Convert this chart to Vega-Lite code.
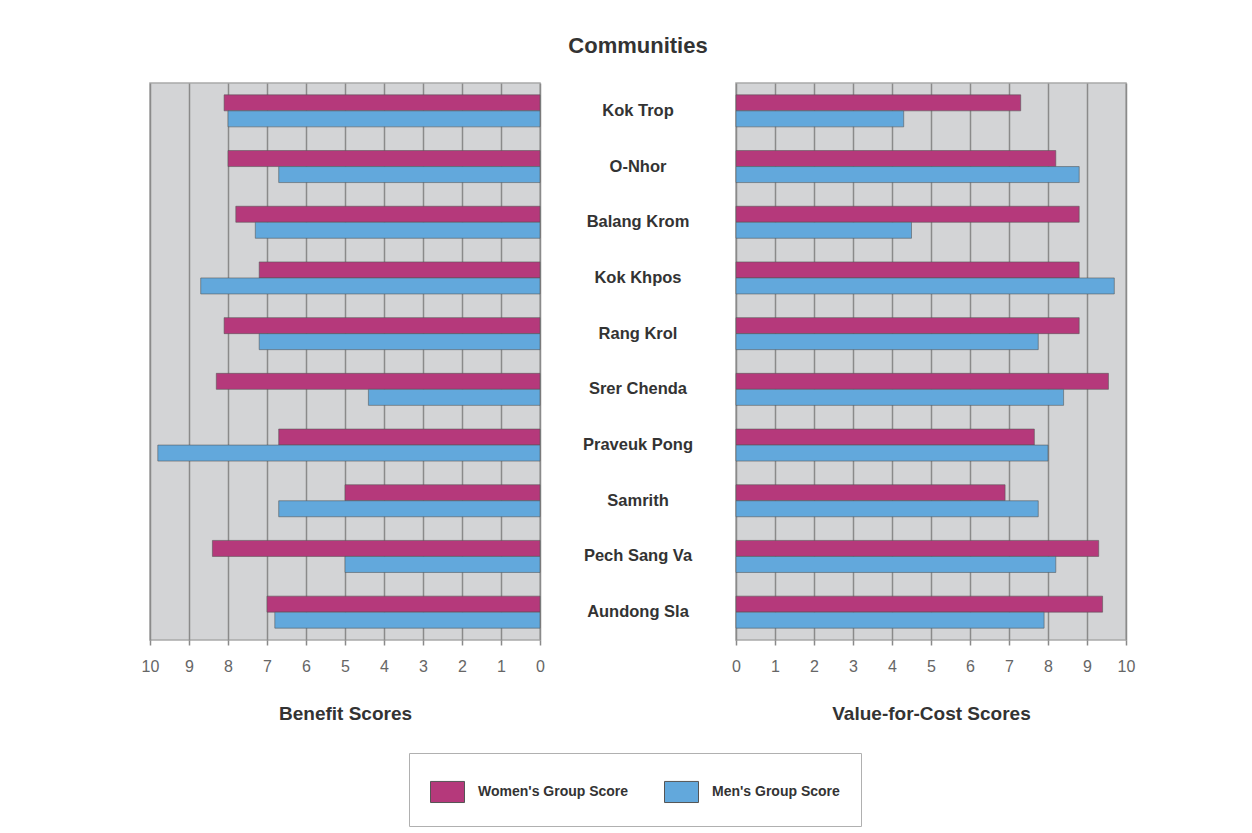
{
  "$schema": "https://vega.github.io/schema/vega-lite/v6.json",
  "padding": {"left": 140, "top": 35, "right": 10, "bottom": 10},
  "background": "white",
  "bounds": "flush",
  "spacing": 0,
  "datasets": {
    "scores": [
      {"community": "Kok Trop", "group": "Women's Group Score", "benefit": 8.1, "value": 7.3},
      {"community": "Kok Trop", "group": "Men's Group Score", "benefit": 8.0, "value": 4.3},
      {"community": "O-Nhor", "group": "Women's Group Score", "benefit": 8.0, "value": 8.2},
      {"community": "O-Nhor", "group": "Men's Group Score", "benefit": 6.7, "value": 8.8},
      {"community": "Balang Krom", "group": "Women's Group Score", "benefit": 7.8, "value": 8.8},
      {"community": "Balang Krom", "group": "Men's Group Score", "benefit": 7.3, "value": 4.5},
      {"community": "Kok Khpos", "group": "Women's Group Score", "benefit": 7.2, "value": 8.8},
      {"community": "Kok Khpos", "group": "Men's Group Score", "benefit": 8.7, "value": 9.7},
      {"community": "Rang Krol", "group": "Women's Group Score", "benefit": 8.1, "value": 8.8},
      {"community": "Rang Krol", "group": "Men's Group Score", "benefit": 7.2, "value": 7.75},
      {"community": "Srer Chenda", "group": "Women's Group Score", "benefit": 8.3, "value": 9.55},
      {"community": "Srer Chenda", "group": "Men's Group Score", "benefit": 4.4, "value": 8.4},
      {"community": "Praveuk Pong", "group": "Women's Group Score", "benefit": 6.7, "value": 7.65},
      {"community": "Praveuk Pong", "group": "Men's Group Score", "benefit": 9.8, "value": 8.0},
      {"community": "Samrith", "group": "Women's Group Score", "benefit": 5.0, "value": 6.9},
      {"community": "Samrith", "group": "Men's Group Score", "benefit": 6.7, "value": 7.75},
      {"community": "Pech Sang Va", "group": "Women's Group Score", "benefit": 8.4, "value": 9.3},
      {"community": "Pech Sang Va", "group": "Men's Group Score", "benefit": 5.0, "value": 8.2},
      {"community": "Aundong Sla", "group": "Women's Group Score", "benefit": 7.0, "value": 9.4},
      {"community": "Aundong Sla", "group": "Men's Group Score", "benefit": 6.8, "value": 7.9}
    ]
  },
  "resolve": {"scale": {"x": "independent", "y": "independent", "yOffset": "independent", "color": "shared"}},
  "hconcat": [
    {
      "width": 390,
      "height": 557,
      "data": {"name": "scores"},
      "view": {"fill": "#d3d4d6", "stroke": "#a9a9a9", "strokeWidth": 1.5},
      "mark": {"type": "bar", "stroke": "#555555", "strokeWidth": 0.8, "strokeOpacity": 0.7},
      "encoding": {
        "y": {"field": "community", "type": "nominal", "axis": null,
          "sort": ["Kok Trop", "O-Nhor", "Balang Krom", "Kok Khpos", "Rang Krol", "Srer Chenda", "Praveuk Pong", "Samrith", "Pech Sang Va", "Aundong Sla"],
          "scale": {"paddingInner": 0.425, "paddingOuter": 0.2125}},
        "yOffset": {"field": "group", "type": "nominal", "scale": {"domain": ["Women's Group Score", "Men's Group Score"], "paddingInner": 0, "paddingOuter": 0}},
        "x": {"field": "benefit", "type": "quantitative",
          "scale": {"domain": [0, 10], "reverse": true, "nice": false, "zero": true},
          "axis": {"title": "Benefit Scores", "values": [0, 1, 2, 3, 4, 5, 6, 7, 8, 9, 10], "grid": true}},
        "color": {"field": "group", "type": "nominal",
          "scale": {"domain": ["Women's Group Score", "Men's Group Score"], "range": ["#b5397b", "#62a8dc"]},
          "legend": {"orient": "none", "legendX": 259, "legendY": 670, "direction": "horizontal", "title": null,
            "symbolType": "M-1,-0.62H1V0.62H-1Z", "symbolSize": 1156, "symbolStrokeColor": "#444444", "symbolStrokeWidth": 1,
            "symbolOpacity": 1, "labelFontSize": 14, "labelFontWeight": "bold", "labelColor": "#333333", "labelOffset": 13,
            "columnPadding": 33, "padding": 21, "strokeColor": "#b0b0b0", "labelFont": "Liberation Sans", "labelLimit": 300}}
      }
    },
    {
      "width": 196,
      "height": 557,
      "data": {"name": "scores"},
      "view": {"stroke": null},
      "title": {"text": "Communities", "fontSize": 22, "fontWeight": "bold", "color": "#333333", "offset": 25, "anchor": "middle", "font": "Liberation Sans"},
      "transform": [{"filter": "datum.group === \"Women's Group Score\""}],
      "mark": {"type": "text", "font": "Liberation Sans", "fontSize": 16.5, "fontWeight": "bold", "color": "#333333"},
      "encoding": {
        "y": {"field": "community", "type": "nominal", "axis": null,
          "sort": ["Kok Trop", "O-Nhor", "Balang Krom", "Kok Khpos", "Rang Krol", "Srer Chenda", "Praveuk Pong", "Samrith", "Pech Sang Va", "Aundong Sla"],
          "scale": {"paddingInner": 0.425, "paddingOuter": 0.2125}},
        "x": {"datum": 0.5, "type": "quantitative", "scale": {"domain": [0, 1]}, "axis": null},
        "text": {"field": "community"}
      }
    },
    {
      "width": 390,
      "height": 557,
      "data": {"name": "scores"},
      "view": {"fill": "#d3d4d6", "stroke": "#a9a9a9", "strokeWidth": 1.5},
      "mark": {"type": "bar", "stroke": "#555555", "strokeWidth": 0.8, "strokeOpacity": 0.7},
      "encoding": {
        "y": {"field": "community", "type": "nominal", "axis": null,
          "sort": ["Kok Trop", "O-Nhor", "Balang Krom", "Kok Khpos", "Rang Krol", "Srer Chenda", "Praveuk Pong", "Samrith", "Pech Sang Va", "Aundong Sla"],
          "scale": {"paddingInner": 0.425, "paddingOuter": 0.2125}},
        "yOffset": {"field": "group", "type": "nominal", "scale": {"domain": ["Women's Group Score", "Men's Group Score"], "paddingInner": 0, "paddingOuter": 0}},
        "x": {"field": "value", "type": "quantitative",
          "scale": {"domain": [0, 10], "nice": false, "zero": true},
          "axis": {"title": "Value-for-Cost Scores", "values": [0, 1, 2, 3, 4, 5, 6, 7, 8, 9, 10], "grid": true}},
        "color": {"field": "group", "type": "nominal",
          "scale": {"domain": ["Women's Group Score", "Men's Group Score"], "range": ["#b5397b", "#62a8dc"]}}
      }
    }
  ],
  "config": {
    "font": "Liberation Sans",
    "axis": {
      "domain": false,
      "labelFlush": false,
      "labelFont": "Liberation Sans",
      "labelFontSize": 16,
      "labelColor": "#666666",
      "tickColor": "#8a8a8a",
      "tickSize": 5,
      "tickWidth": 1.5,
      "labelPadding": 13,
      "titleFont": "Liberation Sans",
      "titleFontSize": 19,
      "titleFontWeight": "bold",
      "titleColor": "#333333",
      "titlePadding": 30,
      "gridColor": "#8a8a8a",
      "gridWidth": 1.5,
      "gridOpacity": 1
    }
  }
}
